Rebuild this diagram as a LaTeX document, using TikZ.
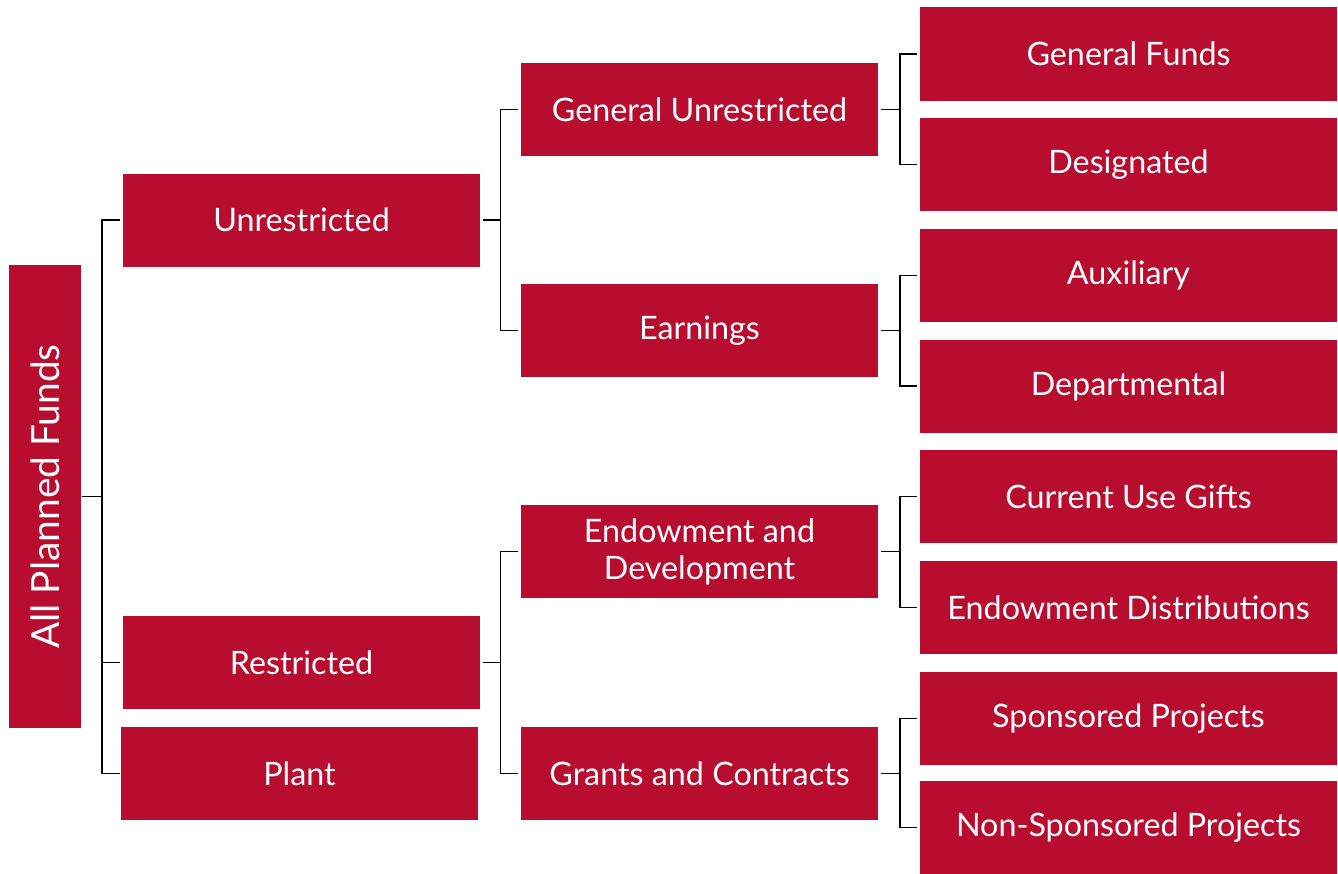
\documentclass[tikz,border=0pt]{standalone}
\usepackage{fontspec}
\setmainfont{Lato}
\definecolor{boxred}{RGB}{185,13,48}
\tikzset{
  box/.style={fill=boxred, draw=none, text=white, inner sep=0pt, align=center,
    minimum height=93bp, font=\fontsize{32.4}{37}\selectfont},
  lvlone/.style={box, minimum width=357bp},
  lvltwo/.style={box, minimum width=357bp},
  lvlthree/.style={box, minimum width=417bp},
  conn/.style={draw=black, line width=1.4bp}
}
\begin{document}
\begin{tikzpicture}[x=1bp,y=-1bp]
\useasboundingbox (0,0) rectangle (1338,873);
% root
\node[box, minimum width=72bp, minimum height=463bp, font=\fontsize{39}{42}\selectfont] (root) at (45,496.5) {\rotatebox{90}{All Planned Funds}};
% level 1
\node[lvlone] (unr) at (301.5,220) {Unrestricted};
\node[lvlone] (res) at (301.5,662.5) {Restricted};
\node[lvlone] (plant) at (299.5,773.5) {Plant};
% level 2
\node[lvltwo] (gu) at (699.5,109.5) {General Unrestricted};
\node[lvltwo] (earn) at (699.5,330.5) {Earnings};
\node[lvltwo] (endow) at (699.5,551.5) {Endowment and\\Development};
\node[lvltwo] (grants) at (699.5,773.5) {Grants and Contracts};
% level 3
\node[lvlthree] (gf) at (1128.5,54) {General Funds};
\node[lvlthree] (des) at (1128.5,164.5) {Designated};
\node[lvlthree] (aux) at (1128.5,275.5) {Auxiliary};
\node[lvlthree] (dep) at (1128.5,386) {Departmental};
\node[lvlthree] (cug) at (1128.5,496.5) {Current Use Gifts};
\node[lvlthree] (ed) at (1128.5,607.5) {Endowment Distributions};
\node[lvlthree] (sp) at (1128.5,718.5) {Sponsored Projects};
\node[lvlthree] (nsp) at (1128.5,827.5) {Non-Sponsored Projects};
% junctions
\coordinate (j0) at (102,496.5);
\coordinate (j1) at (500.5,220);
\coordinate (j2) at (500.5,662.5);
\coordinate (j3) at (900,109.5);
\coordinate (j4) at (900,330.5);
\coordinate (j5) at (900,551.5);
\coordinate (j6) at (900,773.5);
% connectors root
\draw[conn] ([xshift=1bp]root.east) -- (j0);
\draw[conn] (j0) |- ([xshift=-3bp]unr.west);
\draw[conn] (j0) |- ([xshift=-3bp]res.west);
\draw[conn] (j0) |- ([xshift=-1bp]plant.west);
% level1 -> level2
\draw[conn] ([xshift=3bp]unr.east) -- (j1);
\draw[conn] (j1) |- ([xshift=-3bp]gu.west);
\draw[conn] (j1) |- ([xshift=-3bp]earn.west);
\draw[conn] ([xshift=3bp]res.east) -- (j2);
\draw[conn] (j2) |- ([xshift=-3bp]endow.west);
\draw[conn] (j2) |- ([xshift=-3bp]grants.west);
% level2 -> level3
\draw[conn] ([xshift=3bp]gu.east) -- (j3);
\draw[conn] (j3) |- ([xshift=-3bp]gf.west);
\draw[conn] (j3) |- ([xshift=-3bp]des.west);
\draw[conn] ([xshift=3bp]earn.east) -- (j4);
\draw[conn] (j4) |- ([xshift=-3bp]aux.west);
\draw[conn] (j4) |- ([xshift=-3bp]dep.west);
\draw[conn] ([xshift=3bp]endow.east) -- (j5);
\draw[conn] (j5) |- ([xshift=-3bp]cug.west);
\draw[conn] (j5) |- ([xshift=-3bp]ed.west);
\draw[conn] ([xshift=3bp]grants.east) -- (j6);
\draw[conn] (j6) |- ([xshift=-3bp]sp.west);
\draw[conn] (j6) |- ([xshift=-3bp]nsp.west);
\end{tikzpicture}
\end{document}
